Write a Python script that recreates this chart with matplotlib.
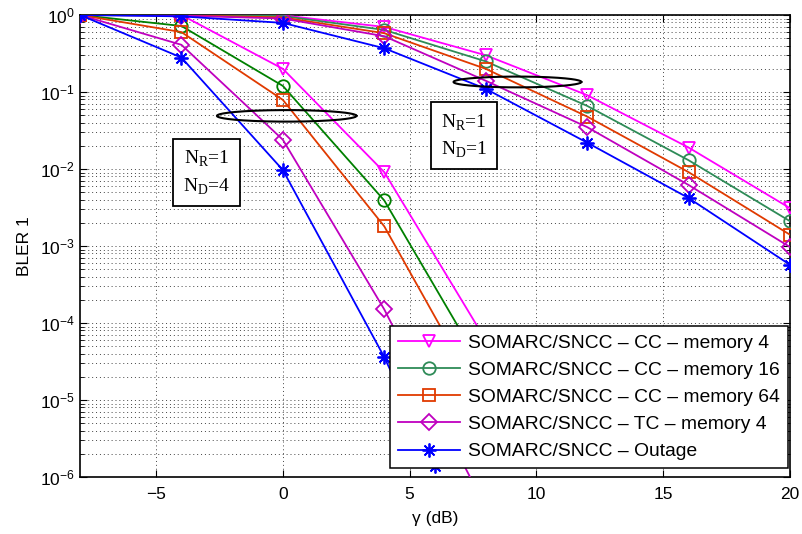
import numpy as np
import matplotlib
matplotlib.use("Agg")
import matplotlib.pyplot as plt
from matplotlib.ticker import LogLocator, NullFormatter

# SNR grid (dB)
snr_nd1 = [-8, -4, 0, 4, 8, 12, 16, 20]
snr_nd4 = [-8, -4, 0, 4, 8]
snr_nd4_outage = [-8, -4, 0, 4, 6]

# N_R=1, N_D=1 curves
cc4_nd1 = [1.0, 1.0, 0.99, 0.70, 0.30, 0.091, 0.019, 0.0031]
cc16_nd1 = [1.0, 0.99, 0.97, 0.64, 0.25, 0.066, 0.013, 0.0021]
cc64_nd1 = [1.0, 0.99, 0.93, 0.58, 0.20, 0.048, 0.0091, 0.0014]
tc4_nd1 = [1.0, 0.98, 0.90, 0.53, 0.14, 0.035, 0.0062, 0.00097]
outage_nd1 = [1.0, 0.96, 0.79, 0.37, 0.11, 0.022, 0.0042, 0.00057]

# N_R=1, N_D=4 curves
cc4_nd4 = [1.0, 1.0, 0.20, 0.0091, 6e-5]
cc16_nd4 = [1.0, 0.72, 0.12, 0.0039, 2.2e-5]
cc64_nd4 = [1.0, 0.60, 0.079, 0.0018, 8e-6]
tc4_nd4 = [1.0, 0.41, 0.024, 1.5e-4, 4e-7]
outage_nd4 = [1.0, 0.28, 0.0097, 3.6e-5, 1.4e-6]

labels = [
    "SOMARC/SNCC \u2013 CC \u2013 memory 4",
    "SOMARC/SNCC \u2013 CC \u2013 memory 16",
    "SOMARC/SNCC \u2013 CC \u2013 memory 64",
    "SOMARC/SNCC \u2013 TC \u2013 memory 4",
    "SOMARC/SNCC \u2013 Outage",
]
markers = ["v", "o", "s", "D", (8, 2, 0)]  # last one: matlab-style asterisk
colors_nd1 = ["#ff00ff", "#2e8b57", "#e03a00", "#bf00bf", "#0000ff"]
colors_nd4 = ["#ff00ff", "#008000", "#e03a00", "#bf00bf", "#0000ff"]

plt.rcParams["font.family"] = ["Liberation Sans", "DejaVu Sans"]
plt.rcParams["mathtext.fontset"] = "custom"
plt.rcParams["mathtext.rm"] = "Liberation Serif"

fig = plt.figure(figsize=(8.02, 5.34), dpi=100)
ax = fig.add_axes([80 / 802, 1 - 477 / 534, 710 / 802, 462 / 534])

nd1 = [cc4_nd1, cc16_nd1, cc64_nd1, tc4_nd1, outage_nd1]
nd4 = [cc4_nd4, cc16_nd4, cc64_nd4, tc4_nd4, outage_nd4]
sizes = [9, 9, 8, 8, 10]

for i in range(5):
    ax.plot(snr_nd1, nd1[i], color=colors_nd1[i], marker=markers[i], ms=sizes[i],
            mfc="none", mew=1.3, lw=1.3, label=labels[i], zorder=3)
    xs = snr_nd4_outage if i == 4 else snr_nd4
    ax.plot(xs, nd4[i], color=colors_nd4[i], marker=markers[i], ms=sizes[i],
            mfc="none", mew=1.3, lw=1.3, zorder=3)

# ellipses grouping the curves (drawn in log space)
t = np.linspace(0, 2 * np.pi, 200)
for cx, a, cy, b in [(0.15, 2.75, np.log10(0.049), 0.075),
                     (9.25, 2.52, np.log10(0.135), 0.07)]:
    ax.plot(cx + a * np.cos(t), 10 ** (cy + b * np.sin(t)), color="black",
            lw=1.5, zorder=4)

box = dict(boxstyle="square,pad=0.5", fc="white", ec="black", lw=1.3)
ax.text(-3.0, 10 ** -2.05, "N$_\\mathrm{R}$=1\nN$_\\mathrm{D}$=4",
        family="Liberation Serif", fontsize=14, bbox=box, va="center",
        ha="center", linespacing=1.45, zorder=5)
ax.text(7.14, 10 ** -1.57, "N$_\\mathrm{R}$=1\nN$_\\mathrm{D}$=1",
        family="Liberation Serif", fontsize=14, bbox=box, va="center",
        ha="center", linespacing=1.45, zorder=5)

ax.set_yscale("log")
ax.set_xlim(-8, 20)
ax.set_ylim(1e-6, 1)
ax.set_xticks([-5, 0, 5, 10, 15, 20])
ax.set_xticklabels(["\u22125", "0", "5", "10", "15", "20"])
ax.set_yticks(10.0 ** np.arange(-6, 1))
ax.yaxis.set_minor_locator(LogLocator(base=10, subs=np.arange(2, 10), numticks=100))
ax.yaxis.set_minor_formatter(NullFormatter())
ax.set_ylim(1e-6, 1)

ax.grid(True, which="major", color="#444444", ls=(0, (1, 3)), lw=0.7)
ax.grid(True, which="minor", axis="y", color="#444444", ls=(0, (1, 3)), lw=0.7)
ax.tick_params(which="both", direction="in", top=True, right=True,
               labelsize=12.5)
ax.tick_params(axis="x", pad=7)
ax.tick_params(which="major", length=5)
ax.tick_params(which="minor", length=3)
for s in ax.spines.values():
    s.set_linewidth(1.2)

ax.set_xlabel("\u03b3 (dB)", fontsize=12.5, labelpad=7)
ax.set_ylabel("BLER 1", fontsize=12.5, labelpad=6)

leg = ax.legend(loc="lower right", bbox_to_anchor=(0.997, 0.0195), fontsize=13.9,
                fancybox=False, framealpha=1, edgecolor="black",
                handlelength=3.2, borderpad=0.4, labelspacing=0.5,
                handletextpad=0.45, borderaxespad=0)
leg.get_frame().set_linewidth(1.1)
leg.set_zorder(10)

fig.savefig("out.png", dpi=100)
